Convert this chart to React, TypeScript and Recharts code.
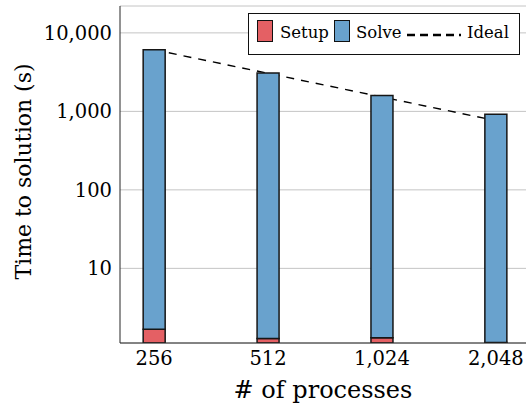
import React from "react";
import { ComposedChart, Bar, Line, XAxis, YAxis, CartesianGrid, Legend, Label } from "recharts";

// ─── Style ─────────────────────────────────────────────────────────────────────
const FONT = "DejaVu Serif";
const SETUP_COLOR = "#E46064";
const SOLVE_COLOR = "#69A2CD";
const FRAME = "#262626";
const TICK = "#9c9c9c";
const GRID = "#c4c4c4";
const TICK_FONT_SIZE = 19.5;

// ─── Data ──────────────────────────────────────────────────────────────────────
const processes = [256, 512, 1024, 2048];
const setupTime = [1.68, 1.28, 1.31, 1.14];
const solveTime = [6098, 3076, 1592, 921];
const idealTime = [6100, 3050, 1525, 762];

const yMajorTicks = [10, 100, 1000, 10000];
const yMinorTicks = [
  2, 3, 4, 5, 6, 7, 8, 9,
  20, 30, 40, 50, 60, 70, 80, 90,
  200, 300, 400, 500, 600, 700, 800, 900,
  2000, 3000, 4000, 5000, 6000, 7000, 8000, 9000,
  20000,
];

const data = processes.map((p, i) => ({
  p,
  setup: setupTime[i],
  solve: solveTime[i],
  ideal: idealTime[i],
}));

const X_DOMAIN: [number, number] = [208, 2461];
const Y_DOMAIN: [number, number] = [1.12, 22000];

const fmt = (v: number) => v.toLocaleString("en-US");

// ─── Tick labels ───────────────────────────────────────────────────────────────
const XTick = ({ x, y, payload }: any) => (
  <text
    x={x}
    y={y}
    dy="0.71em"
    textAnchor="middle"
    fill="#000"
    style={{ fontFamily: FONT, fontSize: TICK_FONT_SIZE }}
  >
    {fmt(payload.value)}
  </text>
);

const YTick = ({ x, y, payload }: any) => (
  <text
    x={x}
    y={y}
    dy="0.34em"
    textAnchor="end"
    fill="#000"
    style={{ fontFamily: FONT, fontSize: TICK_FONT_SIZE }}
  >
    {fmt(payload.value)}
  </text>
);

// ─── Legend box ────────────────────────────────────────────────────────────────
const swatch = (color: string, left: number): React.CSSProperties => ({
  position: "absolute",
  left,
  top: 6,
  width: 14,
  height: 20,
  background: color,
  border: "1.2px solid #111",
});

const legendText = (left: number): React.CSSProperties => ({
  position: "absolute",
  left,
  top: 10,
  lineHeight: "18px",
  fontSize: 16.5,
  fontFamily: FONT,
  color: "#000",
  whiteSpace: "nowrap",
});

const renderLegend = () => (
  <div
    style={{
      position: "relative",
      width: 272,
      height: 42,
      boxSizing: "border-box",
      border: "1.2px solid #111",
      background: "#fff",
    }}
  >
    <span style={swatch(SETUP_COLOR, 8)} />
    <span style={legendText(31)}>Setup</span>
    <span style={swatch(SOLVE_COLOR, 85)} />
    <span style={legendText(107)}>Solve</span>
    <svg style={{ position: "absolute", left: 157, top: 17 }} width={56} height={8}>
      <line x1={1} y1={4} x2={55} y2={4} stroke="#000" strokeWidth={2.4} strokeDasharray="8 5" />
    </svg>
    <span style={legendText(218)}>Ideal</span>
  </div>
);

// tick-only axes (no labels), drawn inward
const tickAxis = (id: string, side: "left" | "right", ticks: number[], size: number, line: boolean) => (
  <YAxis
    key={id}
    yAxisId={id}
    orientation={side}
    scale="log"
    domain={Y_DOMAIN}
    allowDataOverflow
    ticks={ticks}
    interval={0}
    width={0}
    mirror
    tick={false}
    tickSize={size}
    tickLine={{ stroke: TICK, strokeWidth: 1 }}
    axisLine={line ? { stroke: FRAME, strokeWidth: 1 } : false}
  />
);

export default function App() {
  return (
    <div style={{ position: "absolute", left: 0, top: 0, background: "#fff" }}>
      <ComposedChart
        width={527}
        height={406}
        data={data}
        margin={{ top: 6, right: 1, bottom: 0, left: 0 }}
      >
        <CartesianGrid vertical={false} stroke={GRID} strokeWidth={1} />

        <XAxis
          dataKey="p"
          type="number"
          scale="log"
          domain={X_DOMAIN}
          allowDataOverflow
          ticks={processes}
          interval={0}
          height={63}
          axisLine={{ stroke: FRAME, strokeWidth: 1 }}
          tickLine={false}
          tickSize={0}
          tickMargin={8}
          tick={<XTick />}
        >
          <Label
            value="# of processes"
            position="insideBottom"
            offset={8}
            style={{ fontSize: 24, fontFamily: FONT, fill: "#000" }}
          />
        </XAxis>
        <XAxis
          xAxisId="top"
          orientation="top"
          dataKey="p"
          type="number"
          scale="log"
          domain={X_DOMAIN}
          allowDataOverflow
          ticks={processes}
          interval={0}
          height={0}
          mirror
          tick={false}
          tickSize={9}
          tickLine={{ stroke: TICK, strokeWidth: 1 }}
          axisLine={{ stroke: FRAME, strokeWidth: 1 }}
        />

        <YAxis
          scale="log"
          domain={Y_DOMAIN}
          allowDataOverflow
          ticks={yMajorTicks}
          interval={0}
          width={120}
          axisLine={{ stroke: FRAME, strokeWidth: 1 }}
          tickLine={false}
          tickSize={0}
          tickMargin={8}
          tick={<YTick />}
        >
          <Label
            value="Time to solution (s)"
            angle={-90}
            position="center"
            dx={-37}
            dy={-3}
            style={{ fontSize: 22, fontFamily: FONT, fill: "#000" }}
          />
        </YAxis>
        {tickAxis("lmaj", "left", yMajorTicks, 8, false)}
        {tickAxis("lmin", "left", yMinorTicks, 5, false)}
        {tickAxis("rmaj", "right", yMajorTicks, 8, true)}
        {tickAxis("rmin", "right", yMinorTicks, 5, false)}

        {/* ideal scaling sits behind the bars */}
        <Line
          dataKey="ideal"
          type="linear"
          stroke="#000"
          strokeWidth={1.4}
          strokeDasharray="8 7"
          dot={false}
          activeDot={false}
          isAnimationActive={false}
          zIndex={250}
        />
        <Bar
          dataKey="setup"
          stackId="t"
          barSize={22}
          fill={SETUP_COLOR}
          stroke="#161616"
          strokeWidth={1.5}
          isAnimationActive={false}
        />
        <Bar
          dataKey="solve"
          stackId="t"
          barSize={22}
          fill={SOLVE_COLOR}
          stroke="#161616"
          strokeWidth={1.5}
          isAnimationActive={false}
        />

        <Legend
          layout="vertical"
          align="center"
          verticalAlign="middle"
          content={renderLegend}
          wrapperStyle={{ top: 13, left: 248, width: 272, height: 42 }}
        />
      </ComposedChart>
    </div>
  );
}
